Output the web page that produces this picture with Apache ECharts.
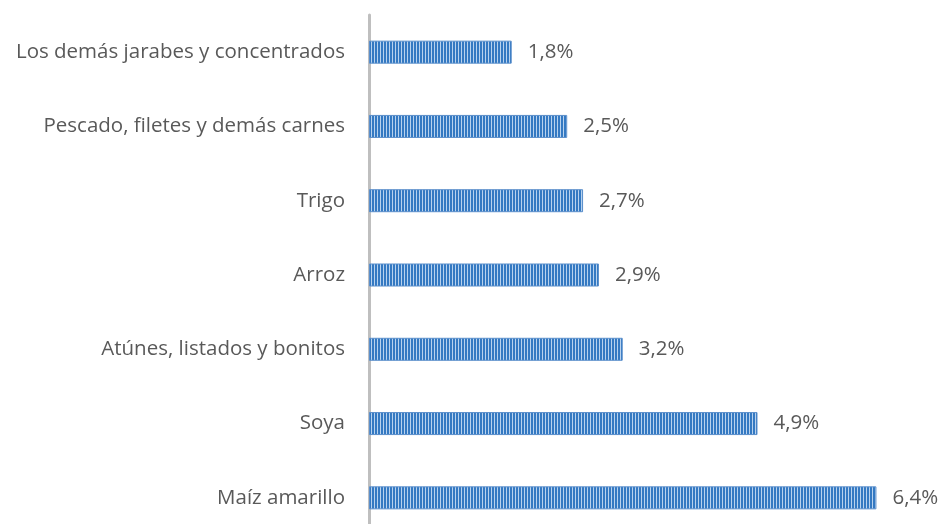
<!DOCTYPE html>
<html>
<head>
<meta charset="utf-8">
<script src="https://cdn.jsdelivr.net/npm/echarts@6/dist/echarts.min.js"></script>
<style>
html,body{margin:0;padding:0;background:#fff;}
#chart{width:943px;height:524px;}
</style>
</head>
<body>
<div id="chart"></div>
<script>
// categories top to bottom as in the picture
var categorias = ["Los demás jarabes y concentrados", "Pescado, filetes y demás carnes", "Trigo", "Arroz", "Atúnes, listados y bonitos", "Soya", "Maíz amarillo"];
var valores = [1.8, 2.5, 2.7, 2.9, 3.2, 4.9, 6.4];

// striped fill like the original (vertical lines)
function stripes(){
	var c = document.createElement("canvas");
	c.width = 3; c.height = 4;
	var ctx = c.getContext("2d");
	ctx.fillStyle = "#3479C2";
	ctx.fillRect(0,0,3,4);
	ctx.fillStyle = "#B8D2EE";
	ctx.fillRect(2,0,1,4);
	return c;
}

var myChart = echarts.init(document.getElementById("chart"));
var option = {
	animation:false,
	grid:{left:369, right:19, top:15, height:520, containLabel:false, outerBoundsMode:"none"},
	xAxis:{type:"value", min:0, max:7, show:false},
	yAxis:{
		type:"category",
		inverse:true,
		data:categorias,
		axisLine:{show:true, lineStyle:{color:"#BFBFBF", width:3}},
		axisTick:{show:false},
		axisLabel:{color:"#595959", fontSize:20.5, fontFamily:"Open Sans", margin:24}
	},
	series:[{
		type:"bar",
		data:valores,
		barWidth:23,
		itemStyle:{color:{image:stripes(), repeat:"repeat"}, borderColor:"#5B8FCB", borderWidth:1},
		label:{
			show:true,
			position:"right",
			distance:16,
			color:"#595959",
			fontSize:20.5,
			fontFamily:"Open Sans",
			formatter:function(p){ return p.value.toFixed(1).replace(".", ",") + "%"; }
		}
	}]
};
myChart.setOption(option);
</script>
</body>
</html>
